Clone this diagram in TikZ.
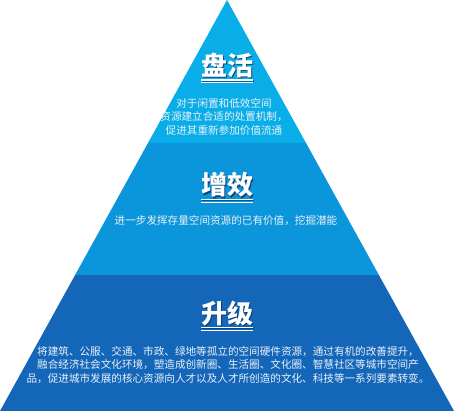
\documentclass[tikz,border=0pt]{standalone}
\usepackage{fontspec}
\newfontfamily\cjk{Noto Sans CJK SC}
\definecolor{tierA}{HTML}{09AEE8}
\definecolor{tierB}{HTML}{0B95DA}
\definecolor{tierC}{HTML}{1467B8}
\definecolor{desc}{HTML}{EAF1FA}
\definecolor{shade}{HTML}{0A2F5A}
\tikzset{
  ttl/.style={inner sep=0pt, anchor=base, text=white, font=\cjk\bfseries\fontsize{26}{26}\selectfont},
  ttlshadow/.style={ttl, text=shade, opacity=0.75},
  uline/.style={draw=white, line width=1.2pt},
  ushadow/.style={draw=shade, opacity=0.6, line width=1.2pt},
  dsc/.style={inner sep=0pt, text=desc, align=center, font=\cjk\fontsize{10.6}{13.5}\selectfont}
}
\begin{document}
\begin{tikzpicture}[x=1pt,y=-1pt]
\useasboundingbox (0,0) rectangle (454,411);
% tiers
\fill[tierA] (227,0) -- (306,143) -- (148,143) -- cycle;
\fill[tierB] (148,143) -- (306,143) -- (378.9,275) -- (75.1,275) -- cycle;
\fill[tierC] (75.1,275) -- (378.9,275) -- (454,411) -- (0,411) -- cycle;
% titles
\foreach \n/\t/\y in {1/盘活/75.5, 2/增效/195, 3/升级/323}{
  \node[ttlshadow] (s\n) at (228.5,\y+1.5) {\t};
  \node[ttl] (t\n) at (227,\y) {\t};
  \draw[ushadow] ([xshift=1pt,yshift=-5.5pt]t\n.base west) -- ([xshift=1pt,yshift=-5.5pt]t\n.base east);
  \draw[uline] ([yshift=-4.5pt]t\n.base west) -- ([yshift=-4.5pt]t\n.base east);
  \draw[uline, line width=1pt] ([yshift=-7.4pt]t\n.base west) -- ([yshift=-7.4pt]t\n.base east);
}
% descriptions
\node[dsc] (d1) at (224,116.5) {对于闲置和低效空间\\资源建立合适的处置机制，\\促进其重新参加价值流通};
\node[dsc] (d2) at (226,221) {进一步发挥存量空间资源的已有价值，挖掘潜能};
\node[dsc] (d3) at (228,365) {将建筑、公服、交通、市政、绿地等孤立的空间硬件资源，通过有机的改善提升，\\融合经济社会文化环境，塑造成创新圈、生活圈、文化圈、智慧社区等城市空间产\\品，促进城市发展的核心资源向人才以及人才所创造的文化、科技等一系列要素转变。};
\end{tikzpicture}
\end{document}
